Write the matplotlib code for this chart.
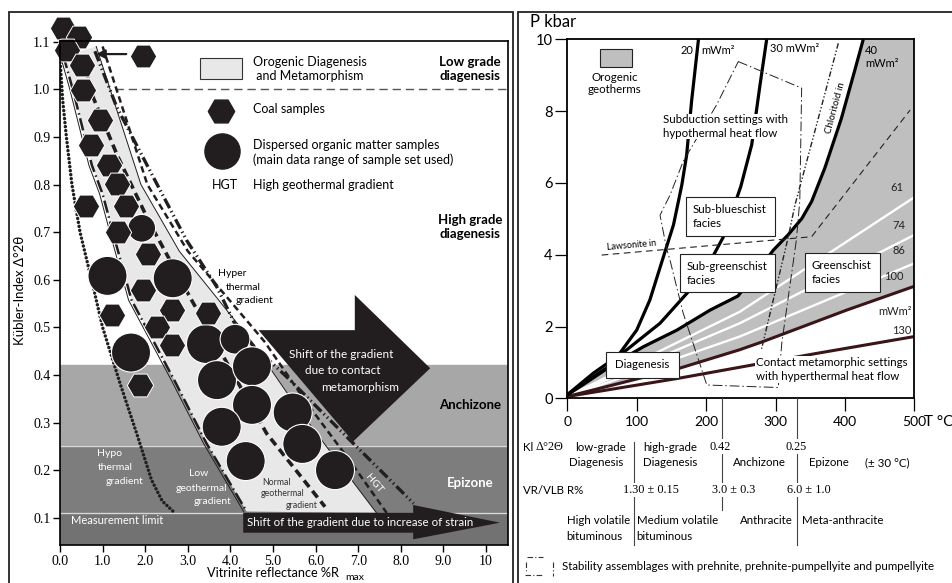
import matplotlib
matplotlib.use('Agg')
import matplotlib.pyplot as plt
from matplotlib.patches import Rectangle, Polygon
from matplotlib.lines import Line2D

plt.rcParams['font.family'] = ['Lato', 'DejaVu Sans']

# ---------------- LEFT PANEL DATA (Kübler index vs vitrinite reflectance) ----------------
x_ticks_L = [0, 1, 2, 3, 4, 5, 6, 7, 8, 9, 10]
x_labels_L = ['0.0', '1.0', '2.0', '3.0', '4.0', '5.0', '6.0', '7.0', '8.0', '9.0', '10']
y_ticks_L = [0.1, 0.2, 0.3, 0.4, 0.5, 0.6, 0.7, 0.8, 0.9, 1.0, 1.1]

zone_limits = [0.11, 0.25, 0.42, 1.0]   # measurement limit, epizone/anchizone, anchizone/diagenesis, low/high diagenesis

coal_x = [0.06, 0.45, 0.16, 0.51, 0.55, 0.94, 0.72, 1.15, 1.33, 0.61, 1.55, 1.35, 2.07, 1.96,
          1.21, 2.62, 3.48, 2.27, 2.62, 1.88, 1.96]
coal_y = [1.128, 1.110, 1.083, 1.051, 0.999, 0.936, 0.883, 0.841, 0.802, 0.755, 0.755, 0.701,
          0.654, 0.578, 0.526, 0.536, 0.529, 0.501, 0.463, 0.379, 1.071]

dom_x = [1.918, 1.115, 2.646, 3.427, 4.108, 1.667, 3.685, 4.507, 4.507, 3.796, 4.359, 5.462, 5.688, 6.455]
dom_y = [0.708, 0.608, 0.603, 0.465, 0.475, 0.447, 0.389, 0.418, 0.337, 0.291, 0.219, 0.321, 0.255, 0.200]

hypo_x = [0.0, 0.06, 0.15, 0.28, 0.47, 0.74, 1.0, 1.41, 1.8, 2.15, 2.4, 2.66]
hypo_y = [1.065, 0.98, 0.90, 0.80, 0.70, 0.60, 0.50, 0.382, 0.277, 0.179, 0.135, 0.113]

low_x = [0.08, 0.3, 0.75, 1.0, 1.3, 1.68, 2.7, 3.44, 4.38]
low_y = [1.07, 1.0, 0.84, 0.78, 0.68, 0.557, 0.386, 0.256, 0.113]

normal_x = [0.6, 0.7, 1.35, 2.1, 3.09, 4.85, 6.22]
normal_y = [1.07, 1.0, 0.86, 0.72, 0.557, 0.277, 0.123]

band_right_x = [0.85, 1.9, 2.8, 3.7, 4.5, 5.5, 6.5, 7.43]
band_right_y = [1.09, 0.80, 0.66, 0.56, 0.47, 0.34, 0.22, 0.11]

hgt_x = [1.0, 2.05, 3.0, 3.95, 4.8, 5.8, 6.8, 7.67]
hgt_y = [1.09, 0.80, 0.66, 0.56, 0.47, 0.34, 0.22, 0.11]

hyper_x = [0.82, 1.33, 2.31, 2.97, 3.68, 4.2, 5.32, 6.73, 8.3]
hyper_y = [1.08, 0.963, 0.795, 0.683, 0.585, 0.49, 0.396, 0.27, 0.13]

contact_arrow_x = [4.66, 6.92, 6.92, 8.69, 6.88]
contact_arrow_y = [0.494, 0.494, 0.568, 0.414, 0.26]

strain_arrow_x = [4.30, 8.29, 8.29, 10.33, 8.29, 8.29, 4.30]
strain_arrow_y = [0.1105, 0.1105, 0.1267, 0.0895, 0.0546, 0.0685, 0.0685]

# ---------------- RIGHT PANEL DATA (P-T diagram) ----------------
T_ticks = [0, 100, 200, 300, 400, 500]
P_ticks = [0, 2, 4, 6, 8, 10]

g20_T = [0, 18, 61.5, 100, 119, 137, 153, 165, 172, 179, 189]
g20_P = [0.1, 0.32, 0.88, 1.9, 2.74, 3.85, 4.83, 5.94, 6.78, 8.26, 10.0]
g30_T = [0, 37.5, 85.6, 133.6, 176.8, 203, 225, 250, 265.7, 277.7, 287.3]
g30_P = [0.1, 0.7, 1.35, 2.09, 3.02, 3.71, 4.5, 5.9, 7.06, 8.73, 10.0]
g40_T = [0, 52, 110, 158, 206, 246, 270, 297, 318, 338, 352, 371, 395, 415, 426.5]
g40_P = [0.1, 0.79, 1.44, 1.9, 2.46, 2.85, 3.45, 4.13, 4.55, 5.01, 5.48, 6.41, 7.8, 9.19, 10.0]
g61_T = [0, 248.5, 500]
g61_P = [0.05, 2.41, 5.6]
g74_T = [0, 248.5, 500]
g74_P = [0.05, 2.09, 4.55]
g86_T = [0, 248.5, 500]
g86_P = [0.05, 1.72, 3.76]
g100_T = [0, 162, 248, 282, 403, 500]
g100_P = [0.05, 0.84, 1.35, 1.58, 2.46, 3.12]
g130_T = [0, 161, 359, 500]
g130_P = [0.05, 0.56, 1.25, 1.72]

lawsonite_T = [49.5, 352, 494]
lawsonite_P = [3.99, 4.5, 8.03]
chloritoid_T = [390.5, 361.7, 328, 318, 300, 280]
chloritoid_P = [9.89, 7.8, 5.38, 4.46, 3.0, 1.38]
stability_T = [246.4, 337.7, 335, 330, 309, 304, 201, 167, 148, 143, 133.6, 148, 167, 215, 246.4]
stability_P = [9.38, 8.64, 5.5, 4.4, 1.53, 0.3, 0.37, 2.37, 3.85, 4.18, 5.1, 5.66, 6.6, 8.17, 9.38]

# ---------------- FIGURE ----------------
W, H = 952, 583
fig = plt.figure(figsize=(W / 100, H / 100), dpi=100)


def fx(px):
    return px / W


def fy(py):
    return 1 - py / H


DARK = '#221e1f'
SERIF = ['Liberation Serif', 'DejaVu Serif']

# panel frames
fig.add_artist(Rectangle((fx(9), -0.01), fx(513.3) - fx(9), fy(11.7) + 0.01, fill=False,
                         ec='#222222', lw=1.3, transform=fig.transFigure))
fig.add_artist(Rectangle((fx(517.7), -0.01), 0.6, fy(11.7) + 0.01, fill=False,
                         ec='#222222', lw=1.3, transform=fig.transFigure))

# ---------- left axes ----------
axL = fig.add_axes([fx(60), fy(545), (508 - 60) / W, (545 - 40.7) / H])
axL.set_xlim(0, 10.516)
axL.set_ylim(0.04265, 1.1021)
axL.axhspan(zone_limits[2], 1.2, color='white', zorder=0)
axL.axhspan(zone_limits[1], zone_limits[2], color='#a7a7a7', zorder=0)
axL.axhspan(zone_limits[0], zone_limits[1], color='#7d7d7d', zorder=0)
axL.axhspan(0.0, zone_limits[0], color='#727272', zorder=0)
axL.axhline(zone_limits[1], color='#d8d8d8', lw=1.0, zorder=0.5)
axL.axhline(zone_limits[0], color='#d8d8d8', lw=1.0, zorder=0.5)
axL.plot([1.3, 10.6], [zone_limits[3]] * 2, color='#555555', lw=1.0, dashes=(6, 3.5), zorder=0.5)

band = list(zip(low_x, low_y)) + list(zip(band_right_x, band_right_y))[::-1]
axL.add_patch(Polygon(band, closed=True, fc='#e8e8e8', ec='none', zorder=1))
axL.plot([v - 0.07 for v in low_x], low_y, color=DARK, lw=0.7, zorder=2)
axL.plot(band_right_x, band_right_y, color=DARK, lw=0.7, zorder=2)

axL.plot(hypo_x, hypo_y, color=DARK, lw=2.5, linestyle=(0, (0.01, 1.15)),
         dash_capstyle='round', zorder=3)
axL.plot(low_x, low_y, color=DARK, lw=1.8, linestyle=(0, (5, 1.5, 0.6, 1.5)), zorder=3)
axL.plot(normal_x, normal_y, color=DARK, lw=2.6, linestyle=(0, (2.3, 1.4)), zorder=3)
axL.plot(hgt_x, hgt_y, color=DARK, lw=1.8, linestyle=(0, (2.6, 1.6)), zorder=3)
axL.plot(hyper_x, hyper_y, color=DARK, lw=2.4,
         linestyle=(0, (3.2, 1.0, 0.4, 1.0, 0.4, 1.0)), zorder=3)

dom_size = [400, 790, 790, 790, 460, 790, 790, 790, 790, 790, 790, 790, 790, 790]
axL.scatter(dom_x, dom_y, s=dom_size, marker='o', c=DARK, edgecolors='white', linewidths=0.8,
            zorder=5, clip_on=False)
axL.scatter(coal_x, coal_y, s=360, marker='H', c=DARK, edgecolors='white', linewidths=0.7,
            zorder=5, clip_on=False)
axL.annotate('', xy=(0.78, 1.074), xytext=(1.62, 1.074),
             arrowprops=dict(arrowstyle='-|>', lw=1.6, color=DARK, mutation_scale=13), zorder=6)

axL.add_patch(Polygon(list(zip(contact_arrow_x, contact_arrow_y)), closed=True, fc=DARK,
                      ec='none', zorder=6))
axL.add_patch(Polygon(list(zip(strain_arrow_x, strain_arrow_y)), closed=True, fc=DARK,
                      ec='none', zorder=6, clip_on=False))

# legend in the left panel
axL.add_patch(Rectangle((3.29, 1.0216), 0.98, 0.0441, fc='#e8e8e8', ec='#333333', lw=0.8, zorder=4))
axL.text(4.53, 1.0426, 'Orogenic Diagenesis\n and Metamorphism', fontsize=9, va='center',
         ha='left', linespacing=1.25, zorder=7)
axL.scatter([3.78], [0.954], s=360, marker='H', c=DARK, zorder=5)
axL.text(4.53, 0.958, 'Coal samples', fontsize=9, va='center', ha='left')
axL.scatter([3.80], [0.870], s=640, marker='o', c=DARK, zorder=5)
axL.text(4.53, 0.867, 'Dispersed organic matter samples\n(main data range of sample set used)',
         fontsize=9, va='center', ha='left', linespacing=1.25)
axL.text(3.57, 0.798, 'HGT', fontsize=9, va='center', ha='left')
axL.text(4.53, 0.798, 'High geothermal gradient', fontsize=9, va='center', ha='left')

axL.text(9.62, 1.043, 'Low grade\ndiagenesis', fontsize=9.5, fontweight='bold', ha='center',
         va='center', linespacing=1.2)
axL.text(9.62, 0.711, 'High grade\ndiagenesis', fontsize=9.5, fontweight='bold', ha='center',
         va='center', linespacing=1.2)
axL.text(9.62, 0.337, 'Anchizone', fontsize=9.5, fontweight='bold', ha='center', va='center')
axL.text(9.62, 0.173, 'Epizone', fontsize=9.5, fontweight='bold', ha='center', va='center',
         color='white')

axL.text(3.71, 0.614, 'Hyper', fontsize=7.5, va='center', ha='left')
axL.text(3.90, 0.584, 'thermal', fontsize=7.5, va='center', ha='left')
axL.text(4.13, 0.556, 'gradient', fontsize=7.5, va='center', ha='left')
axL.text(0.86, 0.235, 'Hypo', fontsize=7.5, va='center', ha='left', color='white')
axL.text(0.89, 0.205, 'thermal', fontsize=7.5, va='center', ha='left', color='white')
axL.text(1.08, 0.176, 'gradient', fontsize=7.5, va='center', ha='left', color='white')
axL.text(3.25, 0.192, 'Low', fontsize=7.5, va='center', ha='center', color='white')
axL.text(3.33, 0.162, 'geothermal', fontsize=7.5, va='center', ha='center', color='white')
axL.text(3.59, 0.133, 'gradient', fontsize=7.5, va='center', ha='center', color='white')
axL.text(5.09, 0.1735, 'Normal', fontsize=6.3, va='center', ha='center', color='#333333', zorder=7)
axL.text(5.23, 0.150, 'geothermal', fontsize=6.3, va='center', ha='center', color='#333333', zorder=7)
axL.text(5.66, 0.125, 'gradient', fontsize=6.3, va='center', ha='center', color='#333333', zorder=7)
axL.text(7.36, 0.172, 'HGT', fontsize=7.5, va='center', ha='center', color='white', rotation=-50,
         zorder=7)
axL.text(0.26, 0.095, 'Measurement limit', fontsize=8, va='center', ha='left', color='white')
axL.text(6.6, 0.443, 'Shift of the gradient', fontsize=8.5, ha='center', va='center',
         color='white', zorder=7)
axL.text(6.64, 0.409, 'due to contact', fontsize=8.5, ha='center', va='center', color='white',
         zorder=7)
axL.text(7.04, 0.374, 'metamorphism', fontsize=8.5, ha='center', va='center', color='white',
         zorder=7)
axL.text(4.39, 0.0905, 'Shift of the gradient due to increase of strain', fontsize=8.3,
         ha='left', va='center', color='white', zorder=7)

axL.set_xticks(x_ticks_L)
axL.set_xticklabels(x_labels_L, fontfamily=SERIF, fontsize=10)
axL.set_yticks(y_ticks_L)
axL.set_yticklabels(['%.1f' % v for v in y_ticks_L], fontfamily=SERIF, fontsize=10)
axL.tick_params(direction='out', length=5, width=1, pad=2)
for s in axL.spines.values():
    s.set_linewidth(1.2)
    s.set_zorder(8)

fig.text(fx(20), fy(290), 'Kübler-Index Δ°2θ', rotation=90, ha='center', va='center', fontsize=9.5)
fig.text(fx(206.7), fy(573), 'Vitrinite reflectance %R', ha='left', va='center', fontsize=9.2)
fig.text(fx(345), fy(577.5), 'max', ha='left', va='center', fontsize=7.5)

# ---------- right axes ----------
axR = fig.add_axes([fx(567.3), fy(398.3), (914.3 - 567.3) / W, (398.3 - 39.3) / H])
axR.set_xlim(0, 500)
axR.set_ylim(0, 10)

gray = list(zip(g40_T, g40_P)) + [(500, 10), (500, g100_P[-1])] + list(zip(g100_T, g100_P))[::-1]
axR.add_patch(Polygon(gray, closed=True, fc='#bfbfbf', ec='none', zorder=1))
for tt, pp in [(g61_T, g61_P), (g74_T, g74_P), (g86_T, g86_P)]:
    axR.plot(tt, pp, color='white', lw=1.7, zorder=2)
axR.plot(g100_T, g100_P, color='#3a1518', lw=2.2, zorder=3)
axR.plot(g130_T, g130_P, color='#3a1518', lw=2.2, zorder=3)
for tt, pp in [(g20_T, g20_P), (g30_T, g30_P), (g40_T, g40_P)]:
    axR.plot(tt, pp, color='black', lw=2.3, zorder=3, solid_capstyle='butt')

axR.plot(lawsonite_T, lawsonite_P, color='#222222', lw=0.8, dashes=(6, 4), zorder=4)
axR.plot(chloritoid_T, chloritoid_P, color='#222222', lw=1.0,
         linestyle=(0, (4, 1.5, 1, 1.5, 1, 1.5)), zorder=4)
axR.plot(stability_T, stability_P, color='#222222', lw=0.7,
         linestyle=(0, (10, 3, 1.5, 3)), zorder=4)

boxes = [((171, 4.52), 127.8, 1.10, 'Sub-blueschist\nfacies', 181),
         ((162.4, 2.95), 136.4, 1.07, 'Sub-greenschist\nfacies', 172.5),
         ((342.3, 2.97), 108.1, 1.07, 'Greenschist\nfacies', 352.5),
         ((55.8, 0.557), 105.2, 0.743, 'Diagenesis', 68.7)]
for (x0, y0), w, h, txt, tx in boxes:
    axR.add_patch(Rectangle((x0, y0), w, h, fc='white', ec='#222222', lw=0.8, zorder=6))
    axR.text(tx, y0 + h / 2, txt, fontsize=8.3, ha='left', va='center', zorder=7, linespacing=1.3)

axR.add_patch(Rectangle((47.1, 9.24), 45.7, 0.48, fc='#bfbfbf', ec='#222222', lw=0.8, zorder=6))
axR.text(68.7, 8.77, 'Orogenic\ngeotherms', fontsize=8.3, ha='center', va='center',
         linespacing=1.2, zorder=7)
axR.text(138.3, 7.57, 'Subduction settings with\nhypothermal heat flow', fontsize=8.3,
         ha='left', va='center', linespacing=1.25, zorder=7,
         bbox=dict(fc='white', ec='none', pad=0.5))
axR.text(271.9, 0.80, 'Contact metamorphic settings\nwith hyperthermal heat flow', fontsize=8.3,
         ha='left', va='center', linespacing=1.25, zorder=7,
         bbox=dict(fc='white', ec='none', pad=0.8))

axR.text(181.5, 9.70, '20', fontsize=8, ha='right', va='center', zorder=7)
axR.text(193.7, 9.70, 'mWm²', fontsize=8, ha='left', va='center', zorder=7)
axR.text(292, 9.75, '30 mWm²', fontsize=8, ha='left', va='center', zorder=7)
axR.text(428.7, 9.70, '40', fontsize=8, ha='left', va='center', zorder=7)
axR.text(428.7, 9.33, 'mWm²', fontsize=8, ha='left', va='center', zorder=7)
axR.text(483.7, 5.86, '61', fontsize=8, ha='right', va='center', zorder=7, color='#222222')
axR.text(486.5, 4.80, '74', fontsize=8, ha='right', va='center', zorder=7, color='#222222')
axR.text(486.5, 4.13, '86', fontsize=8, ha='right', va='center', zorder=7, color='#222222')
axR.text(485, 3.38, '100', fontsize=8, ha='right', va='center', zorder=7, color='#222222')
axR.text(496.5, 2.43, 'mWm²', fontsize=8, ha='right', va='center', zorder=7, color='#222222')
axR.text(496.5, 1.90, '130', fontsize=8, ha='right', va='center', zorder=7, color='#222222')
axR.text(387, 8.1, 'Chloritoid in', fontsize=7, ha='center', va='center', rotation=75, zorder=7)
axR.text(93.2, 4.25, 'Lawsonite in', fontsize=6.5, ha='center', va='center', rotation=5, zorder=7)

axR.set_xticks(T_ticks)
axR.set_yticks(P_ticks)
axR.tick_params(axis='y', direction='out', length=9, width=0.9, labelsize=10.5, pad=1.5)
axR.tick_params(axis='x', direction='out', length=9.5, width=0.9, labelsize=10, pad=3)
for s in axR.spines.values():
    s.set_linewidth(1.3)
    s.set_zorder(8)

fig.text(fx(530), fy(22), 'P kbar', fontsize=12, ha='left', va='center')
fig.text(fx(924), fy(422), 'T °C', fontsize=11, ha='left', va='center')

# ---------- table under the P-T diagram ----------
def seg(x0, y0, x1, y1, **kw):
    fig.add_artist(Line2D([fx(x0), fx(x1)], [fy(y0), fy(y1)], transform=fig.transFigure, **kw))


seg(634.3, 441.7, 634.3, 545, color='#444444', lw=0.8)
seg(722.3, 398.3, 722.3, 510, color='#444444', lw=0.8)
seg(797.3, 398.3, 797.3, 545, color='#444444', lw=0.8)

wb = dict(fc='white', ec='none', pad=1.0)
fs = 8.3
fig.text(fx(523), fy(447.3), 'Kl', fontsize=fs, ha='left', va='center')
fig.text(fx(535), fy(447.3), 'Δ°2Θ', fontsize=fs + 0.5, ha='left', va='center', family=SERIF)
fig.text(fx(600), fy(447.3), 'low-grade', fontsize=fs, ha='center', va='center')
fig.text(fx(596), fy(462.7), 'Diagenesis', fontsize=fs, ha='center', va='center')
fig.text(fx(643.3), fy(447.3), 'high-grade', fontsize=fs, ha='left', va='center')
fig.text(fx(643.3), fy(462.7), 'Diagenesis', fontsize=fs, ha='left', va='center')
fig.text(fx(710), fy(446.7), '0.42', fontsize=fs + 0.5, ha='left', va='center', family=SERIF, bbox=wb)
fig.text(fx(733), fy(462.7), 'Anchizone', fontsize=fs, ha='left', va='center')
fig.text(fx(786), fy(446.7), '0.25', fontsize=fs + 0.5, ha='left', va='center', family=SERIF, bbox=wb)
fig.text(fx(809), fy(462.7), 'Epizone', fontsize=fs, ha='left', va='center')
fig.text(fx(865), fy(462.7), '(± 30 °C)', fontsize=fs, ha='left', va='center')
fig.text(fx(523), fy(490), 'VR/VLB R%', fontsize=fs, ha='left', va='center')
fig.text(fx(622.7), fy(490), '1.30 ± 0.15', fontsize=fs + 0.5, ha='left', va='center', family=SERIF, bbox=wb)
fig.text(fx(711.7), fy(490), '3.0 ± 0.3', fontsize=fs + 0.5, ha='left', va='center', family=SERIF, bbox=wb)
fig.text(fx(786.7), fy(490), '6.0 ± 1.0', fontsize=fs + 0.5, ha='left', va='center', family=SERIF, bbox=wb)
fig.text(fx(566.7), fy(521), 'High volatile', fontsize=fs, ha='left', va='center')
fig.text(fx(566.7), fy(536.7), 'bituminous', fontsize=fs, ha='left', va='center')
fig.text(fx(636.7), fy(521), 'Medium volatile', fontsize=fs, ha='left', va='center')
fig.text(fx(636.7), fy(536.7), 'bituminous', fontsize=fs, ha='left', va='center')
fig.text(fx(740), fy(521), 'Anthracite', fontsize=fs, ha='left', va='center')
fig.text(fx(801.7), fy(521), 'Meta-anthracite', fontsize=fs, ha='left', va='center')

dd = dict(color='#333333', lw=0.8, linestyle=(0, (5, 2, 1, 2)))
seg(526.7, 556.7, 543.3, 556.7, **dd)
seg(525.7, 561.7, 525.7, 573.3, **dd)
seg(525.0, 574.5, 541.7, 574.5, **dd)
seg(553.3, 561.7, 553.3, 575.5, **dd)
fig.text(fx(561.7), fy(566), 'Stability assemblages with prehnite, prehnite-pumpellyite and pumpellyite',
         fontsize=fs, ha='left', va='center')

fig.savefig('out.png', dpi=100)
